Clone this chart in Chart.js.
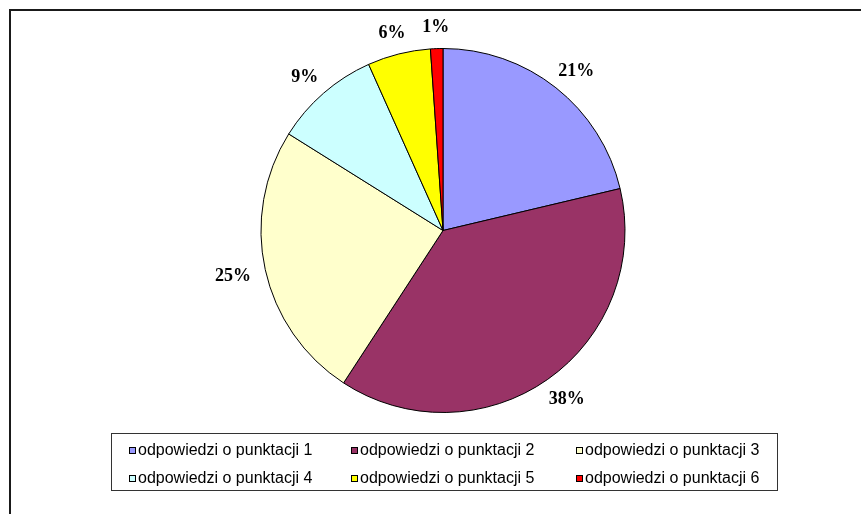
<!DOCTYPE html>
<html lang="pl">
<head>
    <meta charset="UTF-8">
    <script src="https://cdn.jsdelivr.net/npm/chart.js"></script>
    <title>Odpowiedzi</title>
    <style>
        body {
            margin: 0;
            background: #fff;
            font-family: "Liberation Sans", Arial, sans-serif;
        }
        #frame {
            position: absolute;
            left: 9px;
            top: 9px;
            width: 900px;
            height: 600px;
            border-top: 2px solid #1a1a1a;
            border-left: 2px solid #1a1a1a;
        }
        #wrap {
            position: absolute;
            left: 0;
            top: 0;
            width: 861px;
            height: 514px;
        }
        #legend {
            position: absolute;
            left: 111px;
            top: 433px;
            width: 665px;
            height: 56px;
            border: 1px solid #333;
            box-sizing: content-box;
        }
        #legend ul {
            list-style: none;
            margin: 0;
            padding: 2px 0 0 17px;
            display: grid;
            grid-template-columns: 222px 225px auto;
            grid-auto-rows: 28px;
        }
        #legend li {
            display: flex;
            align-items: center;
            font-size: 16px;
            color: #000;
            white-space: nowrap;
        }
        #legend .box {
            width: 5px;
            height: 5px;
            border: 1px solid #000;
            margin-right: 2px;
        }
    </style>
</head>
<body>
<div id="frame"></div>
<div id="wrap"><canvas id="pie"></canvas></div>
<div id="legend"></div>
<script>
    const labels = ['odpowiedzi o punktacji 1', 'odpowiedzi o punktacji 2', 'odpowiedzi o punktacji 3',
        'odpowiedzi o punktacji 4', 'odpowiedzi o punktacji 5', 'odpowiedzi o punktacji 6'];
    const values = [21.3, 37.9, 24.7, 9.4, 5.6, 1.1];
    const colors = ['#9999FF', '#993366', '#FFFFCC', '#CCFFFF', '#FFFF00', '#FF0000'];

    // percent labels outside the slices
    const outsideLabels = {
        id: 'outsideLabels',
        afterDatasetsDraw(chart) {
            const ctx = chart.ctx;
            const meta = chart.getDatasetMeta(0);
            const data = chart.data.datasets[0].data;
            const total = data.reduce((a, b) => a + b, 0);
            ctx.save();
            ctx.font = 'bold 18px "Liberation Serif", "Times New Roman", serif';
            ctx.fillStyle = '#000';
            ctx.textAlign = 'center';
            ctx.textBaseline = 'middle';
            meta.data.forEach((arc, i) => {
                const p = arc.getProps(['x', 'y', 'startAngle', 'endAngle', 'outerRadius'], true);
                const mid = (p.startAngle + p.endAngle) / 2;
                const dx = Math.cos(mid), dy = Math.sin(mid);
                const text = Math.round(data[i] / total * 100) + '%';
                // label box with a little padding, like a text frame
                const w = ctx.measureText(text).width + 6;
                const h = 22;
                const r = p.outerRadius + 12;
                ctx.fillText(text, p.x + dx * r + dx * w / 2, p.y + dy * r + dy * h / 2 + 1.5);
            });
            ctx.restore();
        }
    };

    const chart = new Chart(document.getElementById('pie'), {
        type: 'pie',
        data: {
            labels: labels,
            datasets: [{
                data: values,
                backgroundColor: colors,
                borderColor: '#000',
                borderWidth: 1
            }]
        },
        options: {
            responsive: true,
            maintainAspectRatio: false,
            animation: false,
            radius: 182,
            layout: {padding: {top: 48, bottom: 101, left: 100, right: 75}},
            plugins: {
                legend: {display: false},
                tooltip: {enabled: false}
            }
        },
        plugins: [outsideLabels]
    });

    // html legend with a border, three columns
    const items = chart.options.plugins.legend.labels.generateLabels(chart);
    const ul = document.createElement('ul');
    items.forEach(item => {
        const li = document.createElement('li');
        const box = document.createElement('span');
        box.className = 'box';
        box.style.background = item.fillStyle;
        li.appendChild(box);
        li.appendChild(document.createTextNode(item.text));
        ul.appendChild(li);
    });
    document.getElementById('legend').appendChild(ul);
</script>
</body>
</html>
